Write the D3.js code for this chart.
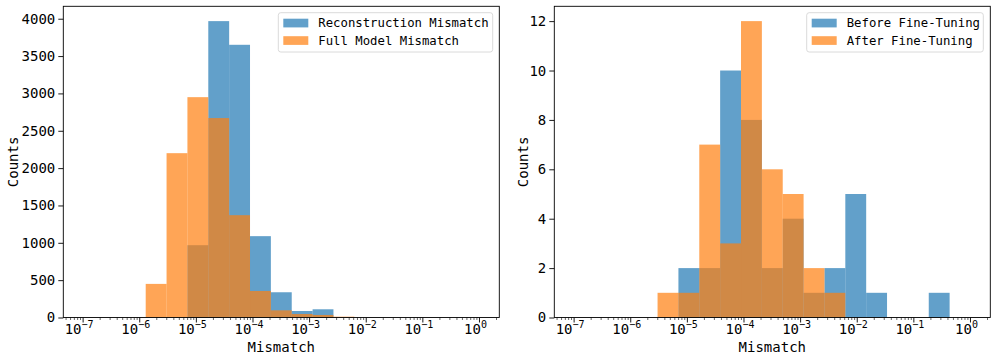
<!DOCTYPE html>
<html><head><meta charset="utf-8">
<script src="https://cdn.jsdelivr.net/npm/d3@7"></script>
<style>
html,body{margin:0;padding:0;background:#fff;}
svg{display:block;}
text{font-family:"DejaVu Sans Mono",monospace;fill:#000;}
</style></head>
<body>
<svg id="chart" width="997" height="362"></svg>
<script>
// Shared log-spaced bins: logspace(-7, 0, 20) -> 19 bins
const binExpStart = -7, binExpEnd = 0, binCount = 19;
const xTickExps = [-7, -6, -5, -4, -3, -2, -1, 0];

// Left panel
const leftLabels = ["Reconstruction Mismatch", "Full Model Mismatch"];
const leftBlue   = [0,0,0,0,0,968,3968,3651,1089,338,87,110,0,0,0,0,0,0,0];
const leftOrange = [0,0,0,450,2200,2950,2670,1370,355,96,47,34,11,0,0,0,0,0,0];
const leftYTicks = [0,500,1000,1500,2000,2500,3000,3500,4000];

// Right panel
const rightLabels = ["Before Fine-Tuning", "After Fine-Tuning"];
const rightBlue   = [0,0,0,0,0,2,2,10,8,2,4,1,2,5,1,0,0,1,0];
const rightOrange = [0,0,0,0,1,1,7,3,12,6,5,2,1,0,0,0,0,0,0];
const rightYTicks = [0,2,4,6,8,10,12];

const svg = d3.select("#chart");
const blue = "#1f77b4", orange = "#ff7f0e";
const binW = (binExpEnd - binExpStart) / binCount;
const edges = d3.range(binCount + 1).map(k => Math.pow(10, binExpStart + k * binW));

function panel(cfg) {
  const {x0, x1, y0, y1, blueVals, orangeVals, yTicks, labels, legendX, legendW, ylabOff} = cfg;
  const g = svg.append("g");
  const margin = 0.05 * (binExpEnd - binExpStart);
  const x = d3.scaleLog()
    .domain([Math.pow(10, binExpStart - margin), Math.pow(10, binExpEnd + margin)])
    .range([x0, x1]);
  const ymax = d3.max(blueVals.concat(orangeVals)) * 1.05;
  const y = d3.scaleLinear().domain([0, ymax]).range([y1, y0]);

  const drawBars = (vals, col) => {
    g.append("g").selectAll("rect")
      .data(vals.map((v, i) => ({v, a: edges[i], b: edges[i + 1]})).filter(d => d.v > 0))
      .join("rect")
      .attr("x", d => x(d.a))
      .attr("width", d => x(d.b) - x(d.a))
      .attr("y", d => y(d.v))
      .attr("height", d => y(0) - y(d.v))
      .attr("fill", col)
      .attr("fill-opacity", 0.7);
  };
  drawBars(blueVals, blue);
  drawBars(orangeVals, orange);

  // y axis
  const yAxis = d3.axisLeft(y).tickValues(yTicks).tickSize(5).tickPadding(3).tickFormat(d3.format("d"));
  const ya = g.append("g").attr("transform", `translate(${x0},0)`).call(yAxis);
  ya.select(".domain").remove();
  ya.selectAll("text").style("font-size", "14px").style("font-family", "DejaVu Sans Mono");
  ya.selectAll("line").attr("stroke", "#000").attr("stroke-width", 0.9);

  // x axis: minor ticks
  const minors = [];
  for (let e = -8; e <= 0; e++) for (let m = 2; m <= 9; m++) {
    const v = m * Math.pow(10, e);
    if (v >= x.domain()[0] && v <= x.domain()[1]) minors.push(v);
  }
  g.append("g").selectAll("line").data(minors).join("line")
    .attr("x1", d => x(d)).attr("x2", d => x(d))
    .attr("y1", y1).attr("y2", y1 + 2.5)
    .attr("stroke", "#000").attr("stroke-width", 0.6);
  const majors = xTickExps.map(e => Math.pow(10, e));
  g.append("g").selectAll("line").data(majors).join("line")
    .attr("x1", d => x(d)).attr("x2", d => x(d))
    .attr("y1", y1).attr("y2", y1 + 5)
    .attr("stroke", "#000").attr("stroke-width", 0.9);
  const lab = g.append("g").selectAll("text").data(xTickExps).join("text")
    .attr("x", e => x(Math.pow(10, e)) - 4)
    .attr("y", y1 + 16.5)
    .attr("text-anchor", "middle")
    .style("font-size", "14px");
  lab.append("tspan").text("10");
  lab.append("tspan").attr("dy", -6).style("font-size", "10px")
    .text(e => String(e).replace("-", "\u2212"));

  // spines
  g.append("rect").attr("x", x0).attr("y", y0).attr("width", x1 - x0).attr("height", y1 - y0)
    .attr("fill", "none").attr("stroke", "#000").attr("stroke-width", 0.9);

  // axis titles
  g.append("text").attr("x", (x0 + x1) / 2).attr("y", y1 + 34.5)
    .attr("text-anchor", "middle").style("font-size", "14px").text("Mismatch");
  g.append("text").attr("transform", `translate(${x0 - ylabOff},${(y0 + y1) / 2}) rotate(-90)`)
    .attr("text-anchor", "middle").style("font-size", "14px").text("Counts");

  // legend
  const lg = g.append("g").attr("transform", `translate(${legendX},${y0 + 6.4})`);
  lg.append("rect").attr("width", legendW).attr("height", 39.3).attr("rx", 2.5)
    .attr("fill", "#fff").attr("fill-opacity", 0.8)
    .attr("stroke", "#d6d6d6").attr("stroke-width", 0.9);
  [blue, orange].forEach((c, i) => {
    lg.append("rect").attr("x", 5).attr("y", 6 + i * 17.5).attr("width", 25).attr("height", 8.7)
      .attr("fill", c).attr("fill-opacity", 0.7);
    lg.append("text").attr("x", 40).attr("y", 14.5 + i * 17.5)
      .style("font-size", "12.3px").text(labels[i]);
  });
}

panel({x0: 63.3, x1: 499.3, y0: 6.3, y1: 317.5, blueVals: leftBlue, orangeVals: leftOrange,
       yTicks: leftYTicks, labels: leftLabels, legendX: 278.3, legendW: 214.4, ylabOff: 45});
panel({x0: 554.3, x1: 990.3, y0: 6.3, y1: 317.5, blueVals: rightBlue, orangeVals: rightOrange,
       yTicks: rightYTicks, labels: rightLabels, legendX: 806.7, legendW: 176.6, ylabOff: 26.5});
</script>
</body></html>
